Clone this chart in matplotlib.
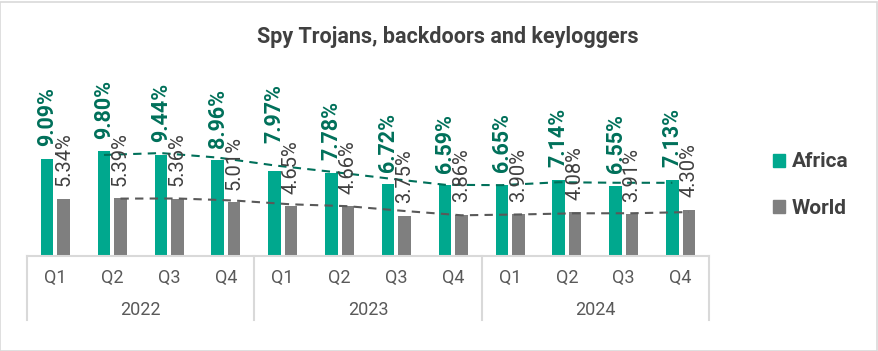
import numpy as np
import matplotlib
matplotlib.use("Agg")
import matplotlib.pyplot as plt
from matplotlib.patches import Patch, Rectangle
import matplotlib.transforms as mtransforms

plt.rcParams['font.family'] = ['Roboto', 'DejaVu Sans']

title = "Spy Trojans, backdoors and keyloggers"
quarters = ["Q1", "Q2", "Q3", "Q4"] * 3
years = ["2022", "2023", "2024"]
africa = [9.09, 9.80, 9.44, 8.96, 7.97, 7.78, 6.72, 6.59, 6.65, 7.14, 6.55, 7.13]
world = [5.34, 5.39, 5.36, 5.01, 4.65, 4.66, 3.75, 3.86, 3.90, 4.08, 3.91, 4.30]

green = "#00A88E"
dark_green = "#00705A"
grey = "#7F7F7F"
text_col = "#404040"
line_col = "#D9D9D9"

W, H = 879, 351
fig = plt.figure(figsize=(W / 100, H / 100), dpi=100)
ax = fig.add_axes([27 / W, (H - 256) / H, (709 - 27) / W, (256 - 70) / H])

x = np.arange(len(africa))
bw = 0.22
off = 0.145
ax.bar(x - off, africa, bw, color=green, zorder=2)
ax.bar(x + off, world, bw, color=grey, zorder=2)

# 2-period moving average trendlines
a = np.array(africa)
w = np.array(world)
ax.plot(x[1:] - off, (a[1:] + a[:-1]) / 2, ls=(0, (4, 3)), color=dark_green, lw=1.5, zorder=3)
ax.plot(x[1:] + off, (w[1:] + w[:-1]) / 2, ls=(0, (4, 3)), color="#595959", lw=1.5, zorder=3)

# value labels
for i in range(len(x)):
    extra = 11 if i == 4 else 0
    ax.annotate("{:.2f}%".format(africa[i]), (x[i] - off, africa[i]), xytext=(0, 9 + extra),
                textcoords="offset points", rotation=90, ha="center", va="bottom",
                fontsize=15.5, fontweight="bold", color=dark_green)
    ax.annotate("{:.2f}%".format(world[i]), (x[i] + off, world[i]), xytext=(0, 9),
                textcoords="offset points", rotation=90, ha="center", va="bottom",
                fontsize=14.5, color=text_col)

ax.set_xlim(-0.5, len(x) - 0.5)
ax.set_ylim(0, 186 / 10.7)
ax.axis("off")

# category axis with year groups
trans = mtransforms.blended_transform_factory(ax.transData, ax.transAxes)
px = 1 / 186
ax.plot([-0.5, len(x) - 0.5], [0, 0], transform=trans, color=line_col, lw=1.5, clip_on=False)
for b in [-0.5, 3.5, 7.5, 11.5]:
    ax.plot([b, b], [0, -64 * px], transform=trans, color=line_col, lw=1.5, clip_on=False)
for i, q in enumerate(quarters):
    ax.text(i, -22 * px, q, transform=trans, ha="center", va="center", fontsize=13, color="#595959")
for j, yr in enumerate(years):
    ax.text(4 * j + 1.5, -54 * px, yr, transform=trans, ha="center", va="center", fontsize=13, color="#595959")

fig.text(448 / W, 1 - 37 / H, title, ha="center", va="center", fontsize=15.5,
         fontweight="bold", color=text_col)

handles = [Patch(color=green), Patch(color=grey)]
fig.legend(handles, ["Africa", "World"], loc="center left", bbox_to_anchor=(754 / W, 1 - 185 / H),
           frameon=False, handlelength=0.6, handleheight=0.6, handletextpad=0.3,
           labelspacing=1.3, prop={"size": 15, "weight": "bold"}, labelcolor=text_col)

fig.patches.append(Rectangle((0.5 / W, 0.5 / H), 1 - 2 / W, 1 - 2 / H, transform=fig.transFigure,
                             fill=False, edgecolor=line_col, lw=1.2))

fig.savefig("out.png", dpi=100)
